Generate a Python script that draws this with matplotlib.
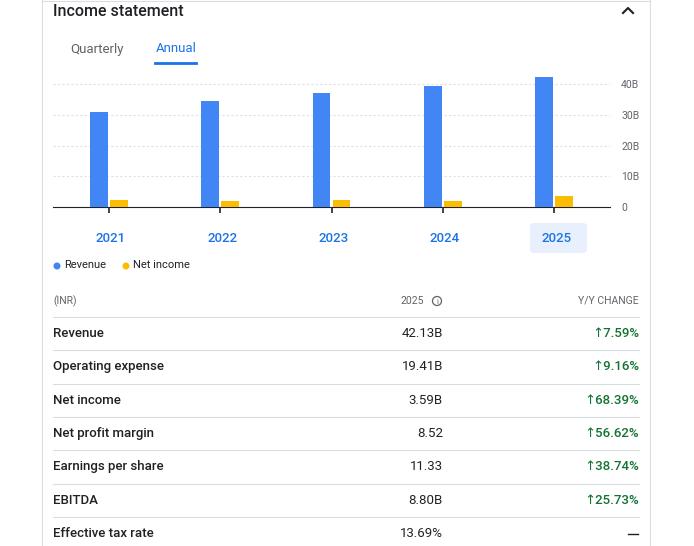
import matplotlib.pyplot as plt
from matplotlib.patches import FancyBboxPatch, Circle

plt.rcParams['font.family'] = ['Roboto', 'DejaVu Sans']

years = ['2021', '2022', '2023', '2024', '2025']
revenue = [30.9, 34.5, 37.1, 39.3, 42.13]
net_income = [2.3, 2.0, 2.2, 2.0, 3.59]
y_ticks = [0, 10, 20, 30, 40]
y_tick_labels = ['0', '10B', '20B', '30B', '40B']

row_names = ['Revenue', 'Operating expense', 'Net income', 'Net profit margin',
             'Earnings per share', 'EBITDA', 'Effective tax rate']
row_values = ['42.13B', '19.41B', '3.59B', '8.52', '11.33', '8.80B', '13.69%']
row_changes = ['7.59%', '9.16%', '68.39%', '56.62%', '38.74%', '25.73%', None]

W, H = 694, 546
BLUE = '#4285f4'
YELLOW = '#fbbc04'
TEXT = '#202124'
GRAY = '#5f6368'
GREEN = '#137333'

fig = plt.figure(figsize=(W / 100, H / 100), dpi=100)
bg = fig.add_axes([0, 0, 1, 1])
bg.set_xlim(0, W)
bg.set_ylim(H, 0)
bg.axis('off')

# card edges
bg.plot([42, 42], [0, H], color='#dadce0', lw=0.8)
bg.plot([650, 650], [0, H], color='#dadce0', lw=0.8)
bg.plot([42, 650], [0.5, 0.5], color='#dadce0', lw=0.8)

bg.text(53, 11, 'Income statement', fontsize=11.5, color=TEXT, va='center', fontweight='medium')
bg.plot([623, 628, 633], [13, 8, 13], color=TEXT, lw=1.5)

bg.text(97, 49, 'Quarterly', fontsize=9.5, color=GRAY, va='center', ha='center')
bg.text(176, 49, 'Annual', fontsize=9.5, color='#1a73e8', va='center', ha='center')
bg.plot([155, 196], [63, 63], color='#1a73e8', lw=2)

# highlighted year box
bg.add_patch(FancyBboxPatch((530, 223), 57, 30, boxstyle='round,pad=0,rounding_size=4',
                            fc='#e8f0fe', ec='none'))

# chart
ax = fig.add_axes([53 / W, 1 - 207 / H, 557 / W, 137 / H])
ax.set_xlim(0, 5)
ax.set_ylim(0, 137 / 3.075)
x = [i + 0.5 for i in range(len(years))]
ax.bar([v - 0.09 for v in x], revenue, width=0.16, color=BLUE, zorder=3)
ax.bar([v + 0.09 for v in x], net_income, width=0.16, color=YELLOW, zorder=3)
for t in y_ticks[1:]:
    ax.axhline(t, color='#e0e0e0', lw=0.8, ls=(0, (2, 2)), zorder=1)
ax.yaxis.tick_right()
ax.set_yticks(y_ticks)
ax.set_yticklabels(y_tick_labels, fontsize=7.5, color=GRAY)
ax.tick_params(axis='y', length=0, pad=8)
ax.set_xticks(x)
ax.set_xticklabels([])
ax.tick_params(axis='x', length=4, width=1.2, color=TEXT, direction='out', pad=2)
for s in ['top', 'right', 'left']:
    ax.spines[s].set_visible(False)
ax.spines['bottom'].set_color(TEXT)
ax.patch.set_alpha(0)

for i, yr in enumerate(years):
    bg.text(53 + 557 * x[i] / 5 + 2, 238, yr, fontsize=9.5, color='#1a73e8',
            ha='center', va='center', fontweight='medium')

# legend
bg.add_patch(Circle((57, 266), 2.8, color=BLUE))
bg.text(64, 265, 'Revenue', fontsize=8, color=TEXT, va='center')
bg.add_patch(Circle((126, 266), 2.8, color=YELLOW))
bg.text(133, 265, 'Net income', fontsize=8, color=TEXT, va='center')

# table
bg.text(53, 301, '(INR)', fontsize=7.5, color=GRAY, va='center')
bg.text(424, 301, '2025', fontsize=7.5, color=GRAY, va='center', ha='right')
bg.add_patch(Circle((437, 301), 4.5, fc='none', ec=GRAY, lw=0.9))
bg.text(437, 301.5, 'i', fontsize=5.5, color=GRAY, va='center', ha='center')
bg.text(639, 301, 'Y/Y CHANGE', fontsize=7.5, color=GRAY, va='center', ha='right')

for i, name in enumerate(row_names):
    y = 333.5 + i * 33.3
    bg.plot([53, 639], [y - 16.5, y - 16.5], color='#dadce0', lw=0.8)
    bg.text(53, y, name, fontsize=9.5, color=TEXT, va='center', fontweight='medium')
    bg.text(443, y, row_values[i], fontsize=9.5, color=TEXT, va='center', ha='right')
    if row_changes[i]:
        bg.text(639, y, '\u2191' + row_changes[i], fontsize=9.5, color=GREEN,
                va='center', ha='right', fontweight='medium')
    else:
        bg.plot([628, 638], [y + 1, y + 1], color=TEXT, lw=1)

fig.savefig('out.png', dpi=100)
